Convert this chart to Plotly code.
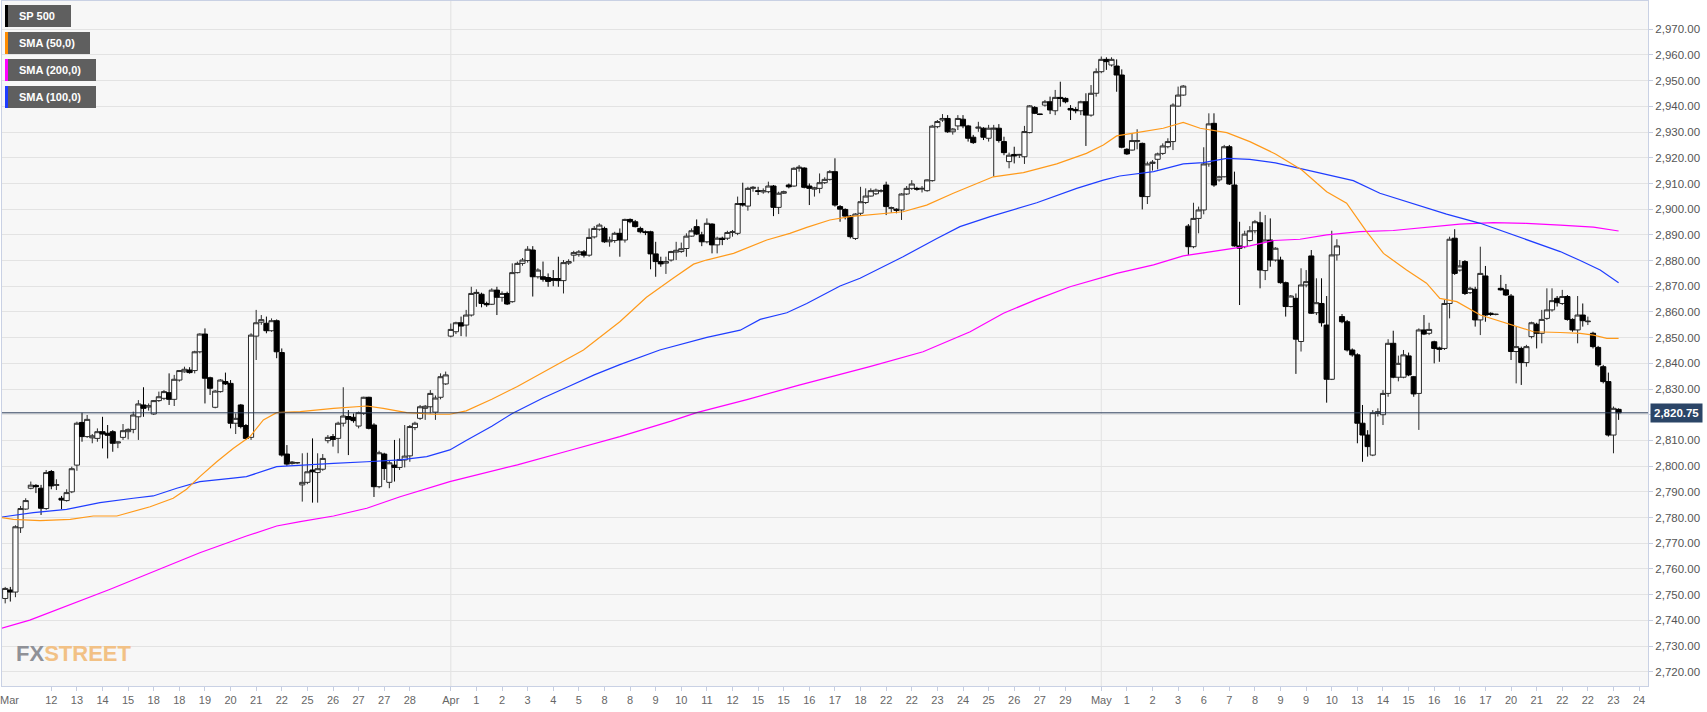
import plotly.graph_objects as go

# ---------------- data (4h candles, index = bar number) ----------------
open_ = [2748.5,2751.8,2751.0,2776.0,2783.3,2791.4,2792.5,2791.4,2783.5,2797.9,
2792.5,2787.5,2786.6,2790.0,2800.4,2817.0,2811.5,2811.0,2810.8,2813.4,
2812.8,2813.4,2809.0,2811.2,2813.4,2814.3,2819.2,2823.8,2823.0,2820.3,
2825.5,2826.4,2828.6,2826.0,2833.5,2836.7,2837.4,2837.2,2844.5,2851.4,
2834.4,2822.9,2829.0,2832.9,2832.2,2816.7,2823.8,2815.8,2811.2,2850.6,
2856.0,2855.6,2852.7,2856.6,2844.2,2804.7,2801.0,2801.2,2792.7,2793.7,
2798.5,2797.5,2798.8,2809.9,2811.5,2810.8,2816.7,2819.3,2819.0,2815.6,
2820.5,2826.8,2816.0,2792.0,2804.7,2793.7,2800.4,2799.5,2802.4,2804.0,
2815.0,2818.6,2822.5,2823.1,2821.0,2826.8,2832.0,
2850.6,2852.3,2855.8,2854.9,2858.8,2867.2,2866.9,2863.3,2863.0,2868.5,
2865.7,2867.2,2864.0,2875.3,2878.9,2880.0,2884.1,2873.7,2873.7,2873.4,
2873.0,2873.0,2872.2,2879.0,2882.1,2882.3,2883.4,2882.1,2889.2,2892.2,
2892.5,2887.3,2887.8,2890.6,2888.0,2896.0,2895.1,2892.5,2891.2,2891.2,
2882.6,2879.6,2879.0,2880.2,2883.3,2883.5,2884.7,2889.5,2893.2,2890.0,
2887.3,2894.2,2886.1,2888.7,2888.7,2890.9,2890.6,2902.2,2901.2,2908.1,
2907.2,2906.7,2906.8,2909.0,2900.7,2906.2,2909.4,2909.0,2915.9,2916.0,
2909.0,2907.8,2908.1,2910.3,2911.6,2914.6,2901.0,2899.9,2897.3,2888.6,
2898.4,2902.6,2905.1,2906.0,2907.0,2909.4,2900.3,2900.0,2899.7,2905.9,
2908.1,2908.1,2907.8,2907.2,2911.1,2932.1,2934.7,2935.3,2930.1,2932.4,
2935.0,2932.4,2928.0,2931.5,2931.5,2927.6,2931.1,2931.5,2926.3,2918.5,
2921.3,2921.0,2920.4,2929.8,2939.6,2937.0,2940.5,2941.8,2938.3,2943.5,
2943.1,2939.2,2938.8,2938.3,2941.8,2936.6,2945.1,2953.5,2958.3,2956.1,
2955.7,2952.2,2923.3,2923.0,2926.3,2925.6,2904.9,2917.8,2919.4,2921.7,
2924.3,2926.3,2940.1,2944.4,2893.4,2885.4,2896.4,2899.7,2917.6,2933.4,
2911.4,2912.6,2924.3,2909.4,2885.7,2885.4,2887.8,2891.6,2894.7,2876.1,
2888.0,2880.2,2880.2,2871.4,2862.1,2865.3,2848.5,2870.5,2881.8,2859.7,
2863.3,2854.9,2833.8,2882.2,2858.2,2856.2,2845.2,2843.3,2816.7,2812.1,
2804.3,2820.5,2820.0,2828.3,2847.8,2834.6,2834.6,2842.9,2834.8,2828.3,
2853.0,2851.7,2848.4,2846.0,2845.8,2863.3,2888.7,2876.3,2879.6,2867.5,
2868.8,2856.9,2874.0,2859.5,2859.0,2869.2,2868.6,2866.2,2844.6,2845.8,
2840.3,2850.4,2855.2,2851.7,2857.5,2860.8,2865.3,2863.3,2866.0,2857.1,
2853.0,2858.8,2856.2,2851.7,2846.2,2838.7,2832.9,2812.1,2822.1]

high_ = [2753.0,2753.0,2777.0,2784.5,2787.5,2794.0,2793.0,2792.7,2798.5,2798.5,
2794.9,2788.4,2791.0,2799.8,2817.3,2820.8,2819.9,2812.5,2814.7,2819.2,
2816.0,2814.0,2809.5,2816.4,2814.7,2821.2,2825.7,2830.7,2824.4,2825.7,
2829.0,2829.6,2836.1,2835.5,2837.4,2838.7,2838.5,2844.9,2851.7,2853.6,
2834.8,2829.6,2833.9,2836.4,2833.5,2820.5,2824.2,2816.4,2851.7,2860.8,
2858.8,2858.2,2857.5,2857.1,2845.8,2808.2,2802.0,2801.6,2805.0,2805.2,
2810.8,2805.0,2804.7,2812.1,2812.5,2817.3,2830.7,2821.8,2820.5,2821.2,
2827.0,2827.0,2816.7,2806.0,2805.2,2802.4,2810.2,2810.8,2816.0,2816.0,
2817.3,2823.8,2823.8,2829.6,2827.5,2836.1,2836.8,
2855.5,2856.2,2858.2,2860.8,2869.8,2868.8,2867.5,2864.0,2869.2,2869.8,
2868.0,2867.9,2878.9,2879.6,2881.0,2885.6,2885.6,2877.0,2879.6,2875.0,
2876.3,2881.5,2880.2,2880.5,2883.8,2884.1,2884.1,2892.5,2893.4,2894.5,
2893.2,2889.3,2891.2,2892.5,2896.3,2896.4,2895.8,2893.2,2891.7,2891.6,
2887.3,2881.5,2881.5,2883.8,2887.3,2887.0,2890.6,2892.5,2896.0,2891.2,
2896.4,2894.5,2889.3,2889.3,2891.6,2891.9,2904.9,2910.3,2908.7,2909.0,
2908.7,2908.1,2910.7,2909.4,2906.8,2907.2,2910.0,2916.3,2917.2,2916.3,
2910.0,2908.7,2913.9,2912.4,2915.2,2919.8,2901.6,2900.3,2897.7,2898.4,
2908.7,2908.1,2908.1,2908.0,2907.8,2910.7,2901.0,2900.3,2906.2,2909.0,
2911.3,2908.7,2909.0,2911.6,2932.8,2934.7,2937.0,2936.6,2931.5,2936.6,
2936.6,2932.8,2928.9,2934.0,2931.9,2932.8,2932.8,2933.1,2928.2,2922.0,
2924.3,2921.5,2932.4,2940.5,2940.1,2937.1,2942.5,2943.8,2946.4,2949.6,
2943.5,2940.5,2939.7,2942.2,2945.1,2948.3,2954.8,2959.4,2959.1,2959.1,
2958.3,2954.4,2923.7,2929.5,2931.1,2925.9,2918.5,2919.1,2922.0,2925.6,
2927.6,2941.2,2947.7,2948.3,2894.2,2902.5,2901.0,2924.1,2937.3,2937.3,
2913.0,2925.0,2925.0,2914.6,2895.1,2891.6,2893.4,2895.8,2899.0,2897.7,
2896.4,2885.2,2881.5,2871.8,2866.6,2867.2,2877.0,2876.3,2884.1,2873.1,
2873.1,2866.2,2891.6,2888.3,2859.2,2856.9,2845.8,2843.9,2823.8,2814.0,
2821.8,2822.5,2829.6,2849.4,2852.7,2843.0,2845.2,2844.2,2835.1,2853.6,
2858.8,2855.8,2848.8,2846.5,2864.7,2889.3,2892.2,2880.2,2880.2,2869.8,
2869.8,2885.4,2877.9,2859.8,2859.3,2874.4,2870.9,2867.0,2854.3,2846.5,
2847.2,2856.2,2855.8,2860.8,2869.2,2869.2,2866.2,2868.6,2866.6,2857.5,
2866.2,2863.3,2858.2,2852.3,2846.8,2839.4,2836.4,2823.2,2822.5]

low_ = [2746.6,2747.3,2749.0,2774.0,2783.0,2791.0,2789.5,2781.0,2783.0,2791.0,
2790.7,2783.2,2786.2,2789.5,2798.2,2809.5,2811.0,2808.9,2809.5,2806.9,
2803.0,2805.6,2807.0,2810.2,2810.4,2812.8,2810.2,2819.2,2821.6,2819.9,
2825.0,2825.7,2823.8,2823.4,2832.9,2836.4,2836.0,2836.1,2843.9,2824.4,
2827.7,2822.5,2828.6,2831.6,2814.7,2812.5,2814.7,2810.2,2810.2,2841.3,
2855.0,2851.7,2852.3,2842.0,2803.7,2800.1,2800.6,2800.8,2786.2,2793.0,
2785.8,2785.8,2798.2,2808.9,2807.6,2805.0,2815.4,2804.3,2816.9,2814.7,
2819.9,2814.3,2788.0,2791.4,2794.6,2791.4,2794.0,2798.5,2799.5,2801.7,
2814.0,2818.0,2818.0,2820.5,2818.0,2826.0,2831.6,
2850.1,2851.4,2850.6,2850.4,2858.2,2862.0,2861.8,2862.0,2862.7,2858.8,
2864.0,2862.7,2863.6,2875.0,2878.0,2879.2,2866.0,2873.0,2871.8,2869.8,
2870.0,2869.8,2867.2,2878.3,2879.6,2881.5,2881.2,2881.5,2888.6,2891.6,
2886.9,2885.4,2886.9,2881.5,2887.0,2894.5,2892.9,2890.6,2889.9,2876.6,
2873.7,2877.6,2874.8,2879.6,2880.2,2883.0,2881.5,2889.3,2889.9,2885.6,
2886.7,2882.8,2882.8,2886.0,2888.0,2889.3,2889.9,2901.0,2899.4,2906.8,
2905.5,2906.0,2906.2,2897.3,2898.1,2905.9,2908.1,2908.7,2914.6,2908.1,
2901.6,2904.9,2906.2,2909.8,2911.1,2901.0,2895.1,2896.0,2888.6,2888.0,
2897.7,2902.0,2904.9,2905.5,2906.5,2897.7,2898.6,2898.4,2895.8,2905.5,
2907.5,2907.2,2906.5,2906.8,2910.7,2931.5,2934.0,2929.7,2929.0,2930.8,
2931.5,2926.3,2925.4,2930.1,2926.9,2926.3,2912.7,2925.9,2921.0,2915.9,
2917.8,2919.9,2917.6,2929.5,2937.0,2936.6,2939.9,2937.0,2936.6,2939.9,
2941.2,2934.7,2937.3,2936.6,2924.6,2936.0,2943.8,2952.9,2954.2,2955.5,
2945.7,2923.7,2921.1,2922.8,2923.3,2899.9,2902.0,2915.0,2915.5,2921.1,
2923.7,2923.0,2939.9,2944.1,2882.2,2884.8,2890.6,2898.0,2916.5,2908.7,
2910.7,2912.4,2909.4,2885.4,2862.7,2884.8,2887.4,2890.6,2869.2,2872.4,
2877.6,2879.6,2871.0,2858.2,2861.8,2835.9,2844.6,2869.6,2859.2,2858.8,
2854.3,2824.7,2833.5,2880.0,2855.6,2844.6,2842.6,2808.9,2801.7,2803.7,
2803.9,2819.3,2816.0,2827.0,2834.2,2833.0,2834.2,2835.0,2827.0,2814.1,
2851.0,2851.0,2840.0,2840.6,2845.2,2857.5,2874.4,2875.7,2866.6,2867.0,
2854.3,2851.0,2856.2,2858.5,2858.7,2868.3,2866.2,2841.3,2832.2,2831.6,
2838.7,2849.7,2845.8,2847.8,2856.9,2860.1,2862.1,2862.7,2856.6,2852.3,
2847.8,2854.3,2854.9,2845.8,2838.7,2832.2,2811.5,2805.0,2818.0]

close_ = [2752.4,2751.0,2776.4,2783.5,2786.6,2792.6,2792.0,2783.6,2797.5,2792.3,
2792.8,2786.8,2789.7,2799.0,2816.7,2811.5,2818.2,2811.8,2813.4,2812.5,
2812.0,2808.9,2809.4,2813.8,2814.3,2819.9,2824.2,2822.5,2823.5,2825.5,
2827.0,2829.0,2826.0,2833.8,2837.2,2837.7,2836.4,2844.5,2851.4,2834.2,
2830.3,2829.2,2833.5,2832.0,2816.7,2818.6,2815.4,2810.8,2851.0,2855.8,
2857.0,2852.7,2856.6,2844.5,2804.3,2800.8,2801.6,2801.4,2793.7,2797.8,
2797.8,2799.0,2803.0,2811.2,2810.4,2816.7,2819.5,2818.2,2817.7,2820.8,
2826.8,2814.7,2792.0,2805.2,2799.1,2801.3,2799.5,2802.6,2803.9,2815.4,
2816.7,2823.1,2823.3,2828.3,2826.5,2834.8,2835.5,
2853.2,2855.8,2854.5,2858.8,2867.2,2867.6,2863.3,2862.8,2868.5,2865.7,
2867.2,2863.1,2875.3,2878.9,2880.2,2884.4,2873.7,2876.3,2872.7,2871.9,
2872.3,2872.2,2879.2,2879.6,2883.1,2883.4,2882.1,2889.0,2892.5,2893.8,
2887.3,2888.0,2890.6,2888.0,2896.0,2895.1,2893.2,2891.2,2890.9,2882.6,
2879.6,2878.7,2879.6,2883.5,2884.0,2884.6,2889.5,2891.6,2890.3,2887.3,
2894.5,2886.1,2888.7,2888.2,2890.9,2891.2,2902.2,2901.6,2908.1,2908.5,
2906.9,2907.2,2909.0,2900.7,2906.2,2906.8,2908.7,2915.9,2916.3,2908.5,
2908.1,2908.3,2910.3,2911.6,2914.6,2901.6,2900.0,2897.3,2889.3,2898.1,
2902.9,2905.1,2907.2,2907.4,2907.2,2901.0,2900.6,2899.6,2905.9,2908.1,
2909.8,2907.8,2908.1,2911.4,2932.3,2934.1,2935.3,2930.1,2931.2,2935.3,
2932.4,2927.6,2925.9,2931.9,2928.0,2931.5,2931.5,2926.7,2922.0,2921.0,
2920.7,2921.3,2930.2,2940.2,2937.3,2936.9,2941.8,2938.6,2943.5,2943.1,
2941.8,2938.6,2938.3,2941.8,2936.6,2945.1,2953.5,2958.3,2957.4,2958.3,
2952.2,2924.1,2921.5,2926.7,2926.7,2904.9,2917.6,2918.3,2921.5,2924.6,
2926.3,2940.5,2944.4,2947.9,2885.4,2896.4,2899.7,2917.6,2933.2,2909.4,
2912.6,2924.3,2909.8,2885.7,2884.8,2890.3,2891.6,2895.1,2876.3,2888.0,
2880.2,2884.8,2871.4,2862.1,2866.2,2849.4,2870.5,2871.8,2859.5,2863.6,
2855.8,2833.8,2882.2,2885.7,2856.2,2845.2,2843.3,2816.7,2812.1,2807.6,
2820.8,2821.2,2828.3,2847.8,2834.6,2840.0,2843.3,2835.5,2828.1,2853.0,
2851.4,2853.2,2845.8,2845.5,2863.3,2888.3,2875.0,2877.9,2867.2,2869.2,
2856.9,2875.0,2858.8,2859.0,2859.1,2868.6,2866.6,2844.6,2846.5,2840.3,
2846.5,2855.8,2851.7,2857.1,2860.8,2864.4,2863.6,2866.0,2857.1,2853.0,
2858.8,2856.6,2856.4,2846.5,2839.4,2832.9,2812.1,2822.5,2820.75]

# moving averages (bar index, value)
sma50_x = [-1, 1.6, 6.8, 12.7, 17.2, 21.8, 28.3, 32.8, 35.4, 38, 41.3, 44.5, 47.8, 50.4, 53, 57.6, 64.1, 70.6,
           73.8, 78.4, 83.6, 86.8, 90, 95, 100, 105, 112.9, 120, 125.2, 130.4, 134.4, 136.9, 142.2, 148.7, 153.2,
           156.5, 161, 164.9, 170.8, 175.3, 179.9, 185.1, 192.9, 198.8, 205.3, 211.1, 214.4, 217, 220.9, 226.1,
           230, 233.3, 238.5, 243, 248, 253.1, 258, 261.9, 265.8, 269.1, 273.6, 277.5, 280.1, 283.4, 288, 293.1,
           298.4, 303.6, 307.5, 310.1, 312.7, 315]
sma50_y = [2780.1, 2779.3, 2778.8, 2779.3, 2780.6, 2780.6, 2784.2, 2787.5, 2791.0, 2795.9, 2801.7, 2806.9, 2811.5,
           2818.0, 2820.8, 2821.2, 2822.5, 2823.4, 2822.5, 2820.8, 2820.2, 2820.2, 2821.5, 2826.0, 2831.0, 2836.5,
           2845.2, 2856.2, 2865.7, 2873.1, 2878.6, 2880.2, 2882.8, 2888.0, 2890.6, 2892.9, 2895.8, 2897.1, 2898.1,
           2899.0, 2901.6, 2906.2, 2912.6, 2914.2, 2917.6, 2921.7, 2925.0, 2928.5, 2929.8, 2931.5, 2933.8, 2931.5,
           2929.8, 2926.3, 2921.5, 2915.3, 2906.8, 2902.3, 2891.3, 2882.8, 2876.3, 2871.2, 2865.3, 2864.0, 2858.8,
           2855.6, 2852.3, 2852.0, 2851.7, 2851.0, 2849.7, 2849.7]

sma100_x = [-1, 5.5, 12, 18.5, 25, 28.9, 33.5, 38, 44.5, 47.1, 53, 57.6, 64.1, 70.6, 77.1, 82.3, 86.8, 90, 95, 99,
            105, 110, 115, 120, 127.8, 137, 143.5, 147.4, 152.6, 156.5, 163, 166.9, 170.8, 175.3, 181.9, 186.4,
            192.3, 201.4, 209.2, 214.4, 217.6, 224.2, 230, 233.9, 238.5, 243, 248, 254.1, 258.7, 263.2, 268.4,
            274.9, 281.4, 288, 293.1, 298.4, 303.6, 307.5, 311.4, 315]
sma100_y = [2780.1, 2781.9, 2783.2, 2785.8, 2787.5, 2788.4, 2791.4, 2794.0, 2795.3, 2795.9, 2799.8, 2800.4, 2801.1,
            2801.7, 2802.4, 2803.7, 2806.3, 2810.0, 2815.5, 2820.5, 2826.5, 2831.0, 2835.5, 2839.5, 2845.2, 2850.1,
            2852.9, 2857.1, 2859.7, 2863.3, 2870.1, 2873.1, 2877.0, 2881.5, 2888.6, 2893.2, 2897.1, 2902.5, 2908.1,
            2911.3, 2912.9, 2914.6, 2917.6, 2918.1, 2919.8, 2919.4, 2918.0, 2915.3, 2913.3, 2911.1, 2906.2, 2902.0,
            2898.1, 2894.5, 2890.9, 2887.0, 2883.5, 2880.0, 2876.3, 2871.4]

sma200_x = [-1, 4.8, 20.5, 25, 38, 47.1, 53, 57.6, 64.1, 70.6, 77.1, 86.8, 100, 110, 120, 130, 135, 145, 155,
            168.8, 179.2, 188.4, 194.9, 201.4, 207.9, 217, 224.2, 230, 237.2, 243, 247.6, 252.8, 258, 264.5, 271,
            277.5, 284, 290.5, 297, 303.6, 310.1, 315]
sma200_y = [2736.7, 2740.1, 2752.1, 2755.7, 2766.3, 2772.8, 2776.7, 2778.4, 2780.6, 2783.6, 2788.1, 2794.0, 2800.5,
            2806.0, 2811.5, 2817.5, 2820.8, 2826.0, 2831.5, 2838.7, 2844.5, 2852.3, 2859.5, 2864.9, 2869.8, 2875.0,
            2878.3, 2881.8, 2884.1, 2885.7, 2887.8, 2888.3, 2890.0, 2891.3, 2891.7, 2893.0, 2894.2, 2894.8, 2894.5,
            2893.8, 2893.0, 2891.5]

# x-axis labels: one every 5 bars, restarting at each month start
month_names = ["Apr", "May"]
month_start = [87, 214]
mar_days = ["12","13","14","15","18","18","19","20","21","22","25","26","27","27","28"]
apr_days = ["1","2","3","4","5","8","8","9","10","11","12","15","15","16","17","18","22","22","23","24","25","26","27","29"]
may_days = ["1","2","3","6","7","8","9","9","10","13","14","15","16","16","17","20","21","22","22","23","24"]
first_mar_tick = 9
last_price = 2820.75

y_ticks = list(range(2720, 2980, 10))

# ---------------- figure ----------------
W, H = 1707, 712
ML, MR, MT, MB = 2, 59, 1, 26
PW, PH = W - ML - MR, H - MT - MB


def px(xp):
    return (xp - ML) / PW


def py(yp):
    return 1 - (yp - MT) / PH


bars = list(range(len(close_)))

tickvals, ticktext = [], []
for k, d in enumerate(mar_days):
    tickvals.append(first_mar_tick + 5 * k); ticktext.append(d)
for m, days in zip(range(2), [apr_days, may_days]):
    tickvals.append(month_start[m]); ticktext.append(month_names[m])
    for k, d in enumerate(days):
        tickvals.append(month_start[m] + 5 * (k + 1)); ticktext.append(d)

fig = go.Figure()
fig.add_trace(go.Scatter(x=sma200_x, y=sma200_y, mode="lines", line=dict(color="#ff00ff", width=1.2),
                         hoverinfo="skip", showlegend=False))
fig.add_trace(go.Scatter(x=sma100_x, y=sma100_y, mode="lines", line=dict(color="#1f3dff", width=1.2),
                         hoverinfo="skip", showlegend=False))
fig.add_trace(go.Scatter(x=sma50_x, y=sma50_y, mode="lines", line=dict(color="#ff9a1a", width=1.2),
                         hoverinfo="skip", showlegend=False))
fig.add_trace(go.Candlestick(
    x=bars, open=open_, high=high_, low=low_, close=close_,
    increasing=dict(line=dict(color="#2a2a2a", width=1), fillcolor="#ffffff"),
    decreasing=dict(line=dict(color="#000000", width=1), fillcolor="#000000"),
    whiskerwidth=0, hoverinfo="skip", showlegend=False))

shapes = []
for ms in month_start:
    shapes.append(dict(type="line", xref="x", yref="paper", x0=ms, x1=ms, y0=0, y1=1,
                       line=dict(color="#e2e2e2", width=1), layer="below"))
shapes.append(dict(type="line", xref="paper", yref="y", x0=0, x1=1, y0=last_price, y1=last_price,
                   line=dict(color="#2b3d5a", width=1), layer="above"))

legend_items = [("SP 500", "#000000", 71), ("SMA (50,0)", "#ff8c00", 90),
                ("SMA (200,0)", "#ff00ff", 96), ("SMA (100,0)", "#1f3dff", 96)]
annotations = []
for i, (label, col, right) in enumerate(legend_items):
    top = 5 + i * 27
    shapes.append(dict(type="rect", xref="paper", yref="paper", x0=px(5), x1=px(right),
                       y0=py(top + 22), y1=py(top), fillcolor="#5f5f5f", line=dict(width=0), layer="above"))
    shapes.append(dict(type="rect", xref="paper", yref="paper", x0=px(5), x1=px(8),
                       y0=py(top + 22), y1=py(top), fillcolor=col, line=dict(width=0), layer="above"))
    annotations.append(dict(xref="paper", yref="paper", x=px(17), y=py(top + 11), xanchor="left",
                            yanchor="middle", showarrow=False, text="<b>" + label + "</b>",
                            font=dict(family="Liberation Sans, Arial, sans-serif", size=11, color="#ffffff")))

annotations.append(dict(xref="paper", yref="y", x=1, y=last_price, xanchor="left", yanchor="middle",
                        xshift=2, showarrow=False, text="<b>2,820.75</b>", bgcolor="#2b4567",
                        borderpad=3, font=dict(family="Liberation Sans, Arial, sans-serif", size=11.5,
                                               color="#ffffff")))
annotations.append(dict(xref="x", yref="paper", x=0.9, y=0, xanchor="center", yanchor="top", yshift=-6,
                        showarrow=False, text="Mar",
                        font=dict(family="Liberation Sans, Arial, sans-serif", size=11, color="#666666")))
annotations.append(dict(xref="paper", yref="paper", x=px(14), y=py(653), xanchor="left", yanchor="middle",
                        showarrow=False,
                        text="<b>FX<span style='color:#f2c185'>STREET</span></b>",
                        font=dict(family="Liberation Sans, Arial, sans-serif", size=22, color="#8f9197")))

fig.update_layout(
    width=W, height=H, margin=dict(l=ML, r=MR, t=MT, b=MB),
    paper_bgcolor="#ffffff", plot_bgcolor="#f7f7f7",
    boxgap=0.0, boxgroupgap=0.0,
    showlegend=False, shapes=shapes, annotations=annotations,
    font=dict(family="Liberation Sans, Arial, sans-serif", size=11, color="#555555"),
    xaxis=dict(range=[-0.625, 320.74], tickmode="array", tickvals=tickvals, ticktext=ticktext,
               showgrid=False, zeroline=False, ticks="outside", ticklen=4, tickcolor="#c5cde0",
               showline=True, linecolor="#c9d1e4", linewidth=1, mirror=True,
               rangeslider=dict(visible=False), tickfont=dict(size=11, color="#666666")),
    yaxis=dict(range=[2714.44, 2981.01], side="right", tickmode="array", tickvals=y_ticks,
               tickformat=",.2f", showgrid=True, gridcolor="#e3e3e3", gridwidth=1, zeroline=False,
               ticks="outside", ticklen=4, tickcolor="#c5cde0", showline=True, linecolor="#c9d1e4",
               linewidth=1, mirror=True, tickfont=dict(size=11.5, color="#555555")),
)

fig.write_html("out.html", config={"displayModeBar": False},
               post_script="document.body.style.margin='0px';")
